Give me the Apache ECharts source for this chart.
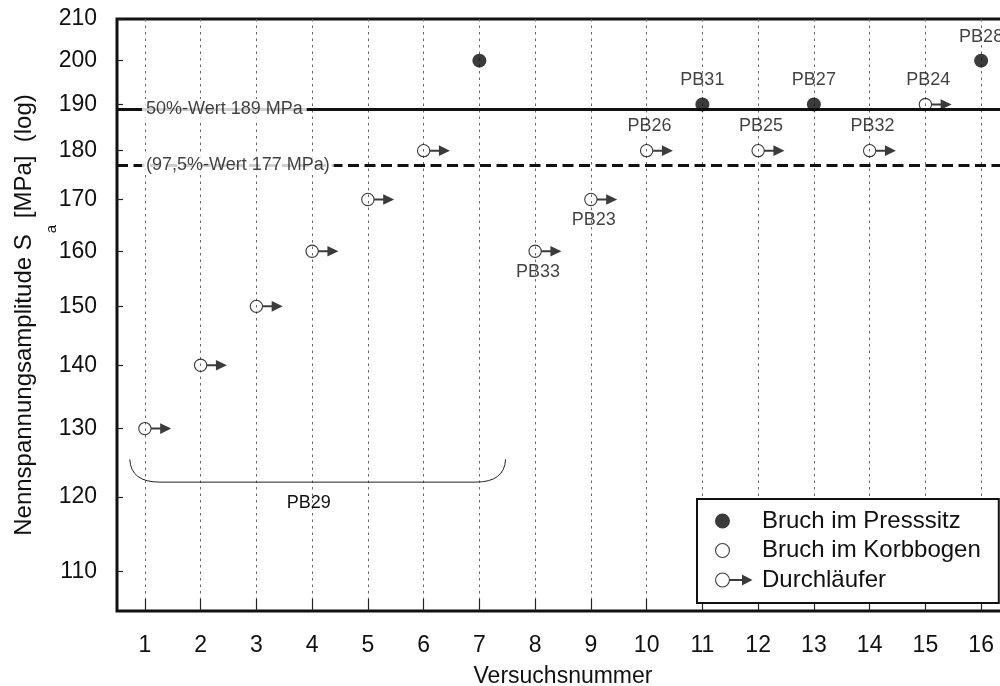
<!DOCTYPE html>
<html><head><meta charset="utf-8">
<script src="https://cdn.jsdelivr.net/npm/echarts@6/dist/echarts.min.js"></script>
<style>html,body{margin:0;padding:0;background:#fff}#c{width:1000px;height:686px}</style>
</head><body><div id="c"></div>
<script>
// ---- data ----
const xTicks = [1,2,3,4,5,6,7,8,9,10,11,12,13,14,15,16];
const yTicks = [110,120,130,140,150,160,170,180,190,200,210];
const pressX = [7,11,13,16];
const pressY = [200,190,190,200];
const pressLabels = ['','PB31','PB27','PB28'];
const runX = [1,2,3,4,5,6,8,9,10,12,14,15];
const runY = [130,140,150,160,170,180,160,170,180,180,180,190];
const runLabels = ['','','','','','','PB33','PB23','PB26','PB25','PB32','PB24'];
const labelsBelow = ['PB33','PB23'];
const refValues = [189,177];
const refTexts = ['50%-Wert 189 MPa','(97,5%-Wert 177 MPa)'];
const braceX = [0.73,7.47];
const braceY = [125.4,122.1];
const braceText = 'PB29';
const seriesNames = ['Bruch im Presssitz','Bruch im Korbbogen','Durchläufer'];
const xName = 'Versuchsnummer';
const yMin = 105, yMax = 210, xMin = 0.5, xMax = 16.5;

// ---- helpers ----
const L = v => Math.log10(v);
const FF = '"Liberation Sans", Arial, Helvetica, sans-serif';
const TC = '#111';
function circ(cx, cy, r, sweep){
  return `M${cx-r},${cy} A${r},${r} 0 1,${sweep} ${cx+r},${cy} A${r},${r} 0 1,${sweep} ${cx-r},${cy} Z `;
}
function ring(cx, cy, r, t){ return circ(cx,cy,r,1) + circ(cx,cy,r-t,0); }
function arrow(x0, x1, x2, cy, h, hh){
  return `M${x0},${cy-h} L${x1},${cy-h} L${x1},${cy-hh} L${x2},${cy} L${x1},${cy+hh} L${x1},${cy+h} L${x0},${cy+h} Z `;
}
const runSymbol = 'path://' + ring(6.7,6.7,6.7,1.1) + arrow(13.2,22,33,6.7,1.0,5.3);
const anchor = (w,cy) => `M${w-0.1},${cy-0.1} L${w},${cy-0.1} L${w},${cy} Z`;
const iconFilled = 'path://' + circ(7.5,7.5,7.5,1) + anchor(42,7.5);
const iconRing = 'path://' + ring(7.5,7.5,7.5,1.1) + anchor(42,7.5);
const iconRun = 'path://' + ring(7.5,7.5,7.5,1.1) + arrow(14.8,27,37.5,7.5,1.0,5.5) + anchor(42,7.5);

const chart = echarts.init(document.getElementById('c'), null, {renderer:'canvas'});
const option = {
  animation: false,
  backgroundColor: '#fff',
  textStyle: {fontFamily: FF},
  grid: {left:117, right:-9, top:19, bottom:75, containLabel:false, outerBoundsMode:'none',
    show:true, borderColor:'#111', borderWidth:3, backgroundColor:'transparent'},
  xAxis: {
    type:'value', min:xMin, max:xMax,
    name: xName, nameLocation:'middle', nameGap:54, nameMoveOverlap:false,
    nameTextStyle:{fontSize:23, color:TC, fontFamily:FF, lineHeight:23},
    axisLine:{show:false},
    axisTick:{show:true, inside:true, length:12, customValues:xTicks, lineStyle:{color:'#222', width:1.2}},
    axisLabel:{customValues:xTicks, fontSize:23, color:TC, fontFamily:FF, margin:23},
    splitLine:{show:true, lineStyle:{type:[2.5,4], color:'#666', width:1}}
  },
  yAxis: {
    type:'value', min:L(yMin), max:L(yMax),
    name: 'Nennspannungsamplitude S{sub|a} [MPa]  (log)',
    nameLocation:'middle', nameGap:81, nameMoveOverlap:false,
    nameTextStyle:{fontSize:24, color:TC, fontFamily:FF, lineHeight:24,
      rich:{sub:{fontSize:15, lineHeight:15, color:TC, fontFamily:FF, padding:[55,0,0,1]}}},
    axisLine:{show:false},
    axisTick:{show:true, inside:true, length:6, customValues:yTicks.map(L), lineStyle:{color:'#222', width:1.2}},
    axisLabel:{customValues:yTicks.map(L), fontSize:23, color:TC, fontFamily:FF, margin:20,
      formatter: v => String(Math.round(Math.pow(10, v)))},
    splitLine:{show:false}
  },
  legend: {
    orient:'vertical', left:697, top:499, itemWidth:42, itemHeight:15, itemGap:5.5,
    padding:[10,18,11,18], backgroundColor:'#fff', borderColor:'#111', borderWidth:2,
    selectedMode:false,
    textStyle:{fontSize:24, lineHeight:23, color:TC, fontFamily:FF},
    data:[
      {name:seriesNames[0], icon:iconFilled},
      {name:seriesNames[1], icon:iconRing},
      {name:seriesNames[2], icon:iconRun}
    ]
  },
  series: [
    {
      type:'line', name:'ref', data:[], z:1, silent:true,
      markLine:{
        z:1, silent:true, precision:10, symbol:['none','none'], label:{show:false},
        data: refValues.map((v,i) => ({yAxis:L(v), lineStyle:{color:'#111', width:3, type: i===0 ? 'solid' : [11,5.5]}}))
      }
    },
    {
      type:'custom', name:'brace', z:2, silent:true, clip:false,
      encode:{x:[0,1], y:[2,3]},
      data:[[braceX[0], braceX[1], L(braceY[0]), L(braceY[1])]],
      renderItem: function(params, api){
        const pL = api.coord([api.value(0), api.value(2)]);
        const pR = api.coord([api.value(1), api.value(2)]);
        const yb = api.coord([api.value(0), api.value(3)])[1];
        const rx = 30;
        const st = {stroke:'#222', fill:'none', lineWidth:1};
        return {type:'group', children:[
          {type:'bezierCurve', shape:{x1:pL[0], y1:pL[1], x2:pL[0]+rx, y2:yb, cpx1:pL[0]+1, cpy1:yb}, style:st},
          {type:'line', shape:{x1:pL[0]+rx, y1:yb, x2:pR[0]-rx, y2:yb}, style:st},
          {type:'bezierCurve', shape:{x1:pR[0]-rx, y1:yb, x2:pR[0], y2:pR[1], cpx1:pR[0]-1, cpy1:yb}, style:st},
          {type:'text', x:(pL[0]+pR[0])/2 - 9, y:yb+21,
            style:{text:braceText, fill:TC, font:'18px ' + FF, align:'center', verticalAlign:'middle'}}
        ]};
      }
    },
    {
      type:'scatter', name:seriesNames[0], z:3, symbol:'circle', symbolSize:14,
      itemStyle:{color:'#0a0a0a'},
      data: pressX.map((x,i) => ({value:[x, L(pressY[i])], label:{show: !!pressLabels[i]}})),
      label:{position:'top', distance:8, fontSize:18, color:TC, fontFamily:FF,
        formatter: p => pressLabels[p.dataIndex]}
    },
    {
      type:'scatter', name:seriesNames[1], z:3, symbol:'emptyCircle', symbolSize:14,
      itemStyle:{color:'#0a0a0a'}, data:[]
    },
    {
      type:'scatter', name:seriesNames[2], z:3, symbol:runSymbol, symbolSize:[33,13.4], symbolOffset:[9.8,0],
      itemStyle:{color:'#0a0a0a'},
      data: runX.map((x,i) => ({value:[x, L(runY[i])],
        label:{show: !!runLabels[i], position: labelsBelow.includes(runLabels[i]) ? 'bottom' : 'top',
               distance: labelsBelow.includes(runLabels[i]) ? 5 : 8.5}})),
      label:{fontSize:18, color:TC, fontFamily:FF, offset:[-7,0],
        formatter: p => runLabels[p.dataIndex]}
    },
    {
      type:'scatter', name:'refLabels', z:4, symbolSize:0, clip:false, silent:true,
      data: refValues.map(v => [xMin, L(v)]),
      label:{show:true, position:'right', distance:25, fontSize:18, color:TC, fontFamily:FF,
        backgroundColor:'#fff', padding:[1,4], formatter: p => refTexts[p.dataIndex]}
    }
  ]
};
chart.setOption(option);
</script>
</body></html>
